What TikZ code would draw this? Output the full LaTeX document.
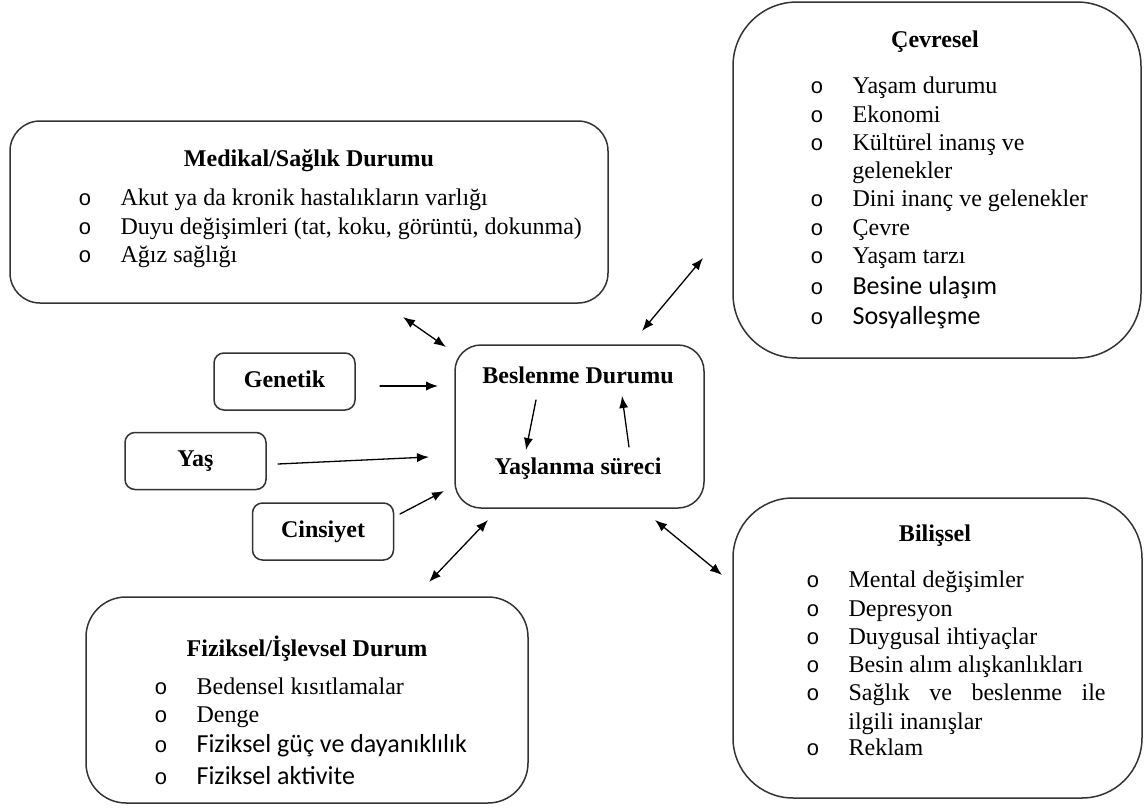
\documentclass[tikz,border=0pt]{standalone}
\usepackage{fontspec}
\setmainfont{Liberation Serif}
\newfontfamily\calfont{Carlito}
\newfontfamily\isaretfont{Liberation Mono}
\usetikzlibrary{arrows.meta}

% madde isareti + metin
\newcommand{\madde}[1]{\makebox[21.1pt][l]{\isaretfont\fontsize{11}{13}\selectfont o}#1}
\newcommand{\calibri}{\calfont\fontsize{13}{15}\selectfont}

\tikzset{
  kutu/.style={draw=black!80, line width=0.75pt},
  kucuk/.style={kutu, rounded corners=5pt, minimum width=70.5pt,
    minimum height=28.5pt, font=\fontsize{12}{14}\selectfont\bfseries,
    text height=8pt, text depth=2.5pt},
  baslik/.style={font=\fontsize{12}{14}\selectfont\bfseries, inner sep=0pt,
    anchor=base},
  madde/.style={font=\fontsize{12}{14}\selectfont, inner sep=0pt,
    anchor=base west},
  ok/.style={line width=0.65pt, -{Latex[length=6pt,width=4.6pt]}},
  ciftok/.style={line width=0.65pt,
    {Latex[length=6pt,width=4.6pt]}-{Latex[length=6pt,width=4.6pt]}}
}

\begin{document}
\begin{tikzpicture}[
  x=0.5pt,
  y=-0.5pt,
  line cap=round,
  line join=round
]
  \useasboundingbox (0,0) rectangle (1148,809);

  % Orta kutu
  \node[kutu, rounded corners=13pt, minimum width=124.5pt,
    minimum height=81.5pt] (besl) at (579.5,426.5) {};
  \node[baslik] (beslUst) at (578,383) {Beslenme Durumu};
  \node[baslik] (beslAlt) at (578,474) {Yaşlanma süreci};

  % Sol taraftaki kucuk kutular
  \node[kucuk] (genetik) at (284.5,381.5) {Genetik};
  \node[kucuk] (yas) at (195.5,461) {Yaş};
  \node[kucuk] (cinsiyet) at (323,531.5) {Cinsiyet};

  % Medikal/Saglik Durumu
  \node[kutu, rounded corners=15pt, minimum width=299pt,
    minimum height=91pt] (medikal) at (309,212) {};
  \node[baslik] (medBaslik) at (309,166) {Medikal/Sağlık Durumu};
  \foreach \yy/\metin [count=\i] in {
    205/{Akut ya da kronik hastalıkların varlığı},
    234/{Duyu değişimleri (tat, koku, görüntü, dokunma)},
    262/{Ağız sağlığı}}
    \node[madde] (med\i) at (78,\yy) {\madde{\metin}};

  % Cevresel
  \node[kutu, rounded corners=32pt, minimum width=204pt,
    minimum height=178pt] (cevre) at (937,180) {};
  \node[baslik] (cevBaslik) at (935,47) {Çevresel};
  \foreach \yy/\metin [count=\i] in {
    93/{Yaşam durumu},
    122/{Ekonomi},
    150/{Kültürel inanış ve},
    206/{Dini inanç ve gelenekler},
    235/{Çevre},
    263/{Yaşam tarzı},
    294/{\calibri Besine ulaşım},
    324/{\calibri Sosyalleşme}}
    \node[madde] (cev\i) at (810,\yy) {\madde{\metin}};
  \node[madde] (cevDevam) at (852,178) {gelenekler};

  % Fiziksel/Islevsel Durum
  \node[kutu, rounded corners=20pt, minimum width=221pt,
    minimum height=103pt] (fiziksel) at (307,700) {};
  \node[baslik] (fizBaslik) at (307,656) {Fiziksel/İşlevsel Durum};
  \foreach \yy/\metin [count=\i] in {
    694/{Bedensel kısıtlamalar},
    722/{Denge},
    752/{\calibri Fiziksel güç ve dayanıklılık},
    784/{\calibri Fiziksel aktivite}}
    \node[madde] (fiz\i) at (154,\yy) {\madde{\metin}};

  % Bilissel
  \node[kutu, rounded corners=30pt, minimum width=204.5pt,
    minimum height=150pt] (bilis) at (937.5,648) {};
  \node[baslik] (bilBaslik) at (935,541) {Bilişsel};
  \foreach \yy/\metin [count=\i] in {
    587/{Mental değişimler},
    616/{Depresyon},
    644/{Duygusal ihtiyaçlar},
    672/{Besin alım alışkanlıkları},
    700/{\makebox[128.5pt][s]{Sağlık\hfill ve\hfill beslenme\hfill ile}},
    755/{Reklam}}
    \node[madde] (bil\i) at (806,\yy) {\madde{\metin}};
  \node[madde] (bilDevam) at (848,729) {ilgili inanışlar};

  % Oklarin uc noktalari
  \coordinate (medA) at (403,317);
  \coordinate (medB) at (446,347);
  \coordinate (cevA) at (642,331);
  \coordinate (cevB) at (703,258);
  \coordinate (genA) at (380,386);
  \coordinate (genB) at (438,386);
  \coordinate (yasA) at (278,464);
  \coordinate (yasB) at (429,457);
  \coordinate (cinA) at (400,514);
  \coordinate (cinB) at (444,491);
  \coordinate (fizA) at (429,582);
  \coordinate (fizB) at (488,520);
  \coordinate (bilA) at (655,520);
  \coordinate (bilB) at (722,575);
  \coordinate (icA) at (536,400);
  \coordinate (icB) at (526,450);
  \coordinate (icC) at (629,447);
  \coordinate (icD) at (622,396);

  \draw[ciftok] (medA) -- (medB);
  \draw[ciftok] (cevA) -- (cevB);
  \draw[ok] (genA) -- (genB);
  \draw[ok] (yasA) -- (yasB);
  \draw[ok] (cinA) -- (cinB);
  \draw[ciftok] (fizA) -- (fizB);
  \draw[ciftok] (bilA) -- (bilB);

  % Kutu icindeki oklar
  \draw[ok] (icA) -- (icB);
  \draw[ok] (icC) -- (icD);
\end{tikzpicture}
\end{document}
